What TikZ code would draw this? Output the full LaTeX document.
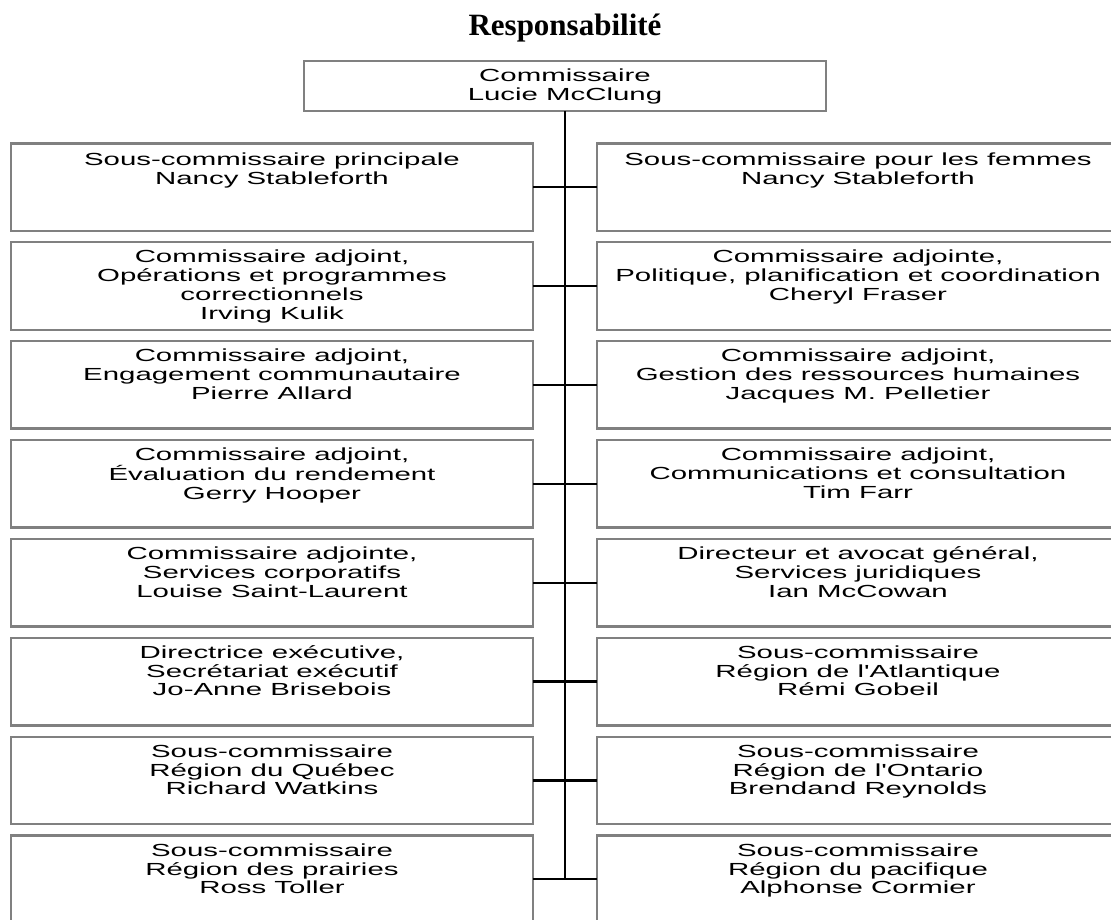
\documentclass[tikz,border=0pt]{standalone}
\usepackage{fontspec}
\newfontfamily\boxfont[FakeStretch=1.68]{Liberation Sans}
\newfontfamily\titlefont{Liberation Serif}
\newcommand\firstln{\rule{0pt}{14pt}}
\begin{document}
\begin{tikzpicture}[x=1pt,y=-1pt,
  orgbox/.style={draw=black!50, line width=2.4pt, rectangle, minimum width=522pt,
    minimum height=87.5pt, inner sep=0pt, outer sep=0pt},
  boxtext/.style={anchor=north, inner sep=0pt, align=center,
    font=\boxfont\fontsize{17.5}{18.7}\selectfont},
  link/.style={draw=black, line width=2.2pt},
  trunk/.style={draw=black, line width=2.8pt}]
\useasboundingbox (0,0) rectangle (1111,919);
\clip (0,0) rectangle (1111,919);

\node[font=\titlefont\fontsize{31}{31}\selectfont\bfseries, anchor=base, inner sep=0pt] (title) at (565,35) {Responsabilité};

\node[orgbox, minimum height=50pt] (top) at (565,86) {};
\node[boxtext] (ttop) at ([yshift=-6.5pt]top.north) {\firstln Commissaire\\Lucie McClung};

\foreach \i in {1,...,8} {
  \node[orgbox] (L\i) at (272, {143.3+(\i-1)*98.9+43.75}) {};
  \node[orgbox] (R\i) at (858, {143.3+(\i-1)*98.9+43.75}) {};
}

\node[boxtext] (tL1) at ([yshift=-8pt]L1.north) {\firstln Sous-commissaire principale\\Nancy Stableforth};
\node[boxtext] (tR1) at ([yshift=-8pt]R1.north) {\firstln Sous-commissaire pour les femmes\\Nancy Stableforth};
\node[boxtext] (tL2) at ([yshift=-6.5pt]L2.north) {\firstln Commissaire adjoint,\\Opérations et programmes\\correctionnels\\Irving Kulik};
\node[boxtext] (tR2) at ([yshift=-6.5pt]R2.north) {\firstln Commissaire adjointe,\\Politique, planification et coordination\\Cheryl Fraser};
\node[boxtext] (tL3) at ([yshift=-6.5pt]L3.north) {\firstln Commissaire adjoint,\\Engagement communautaire\\Pierre Allard};
\node[boxtext] (tR3) at ([yshift=-6.5pt]R3.north) {\firstln Commissaire adjoint,\\Gestion des ressources humaines\\Jacques M. Pelletier};
\node[boxtext] (tL4) at ([yshift=-6.5pt]L4.north) {\firstln Commissaire adjoint,\\Évaluation du rendement\\Gerry Hooper};
\node[boxtext] (tR4) at ([yshift=-6.5pt]R4.north) {\firstln Commissaire adjoint,\\Communications et consultation\\Tim Farr};
\node[boxtext] (tL5) at ([yshift=-6.5pt]L5.north) {\firstln Commissaire adjointe,\\Services corporatifs\\Louise Saint-Laurent};
\node[boxtext] (tR5) at ([yshift=-6.5pt]R5.north) {\firstln Directeur et avocat général,\\Services juridiques\\Ian McCowan};
\node[boxtext] (tL6) at ([yshift=-6.5pt]L6.north) {\firstln Directrice exécutive,\\Secrétariat exécutif\\Jo-Anne Brisebois};
\node[boxtext] (tR6) at ([yshift=-6.5pt]R6.north) {\firstln Sous-commissaire\\Région de l'Atlantique\\Rémi Gobeil};
\node[boxtext] (tL7) at ([yshift=-6.5pt]L7.north) {\firstln Sous-commissaire\\Région du Québec\\Richard Watkins};
\node[boxtext] (tR7) at ([yshift=-6.5pt]R7.north) {\firstln Sous-commissaire\\Région de l'Ontario\\Brendand Reynolds};
\node[boxtext] (tL8) at ([yshift=-6.5pt]L8.north) {\firstln Sous-commissaire\\Région des prairies\\Ross Toller};
\node[boxtext] (tR8) at ([yshift=-6.5pt]R8.north) {\firstln Sous-commissaire\\Région du pacifique\\Alphonse Cormier};

\coordinate (vend) at (top.south |- L8.east);
\draw[trunk] (top.south) -- (vend);
\foreach \i in {1,...,8} {
  \draw[link] (L\i.east) -- (R\i.west);
}
\end{tikzpicture}
\end{document}
